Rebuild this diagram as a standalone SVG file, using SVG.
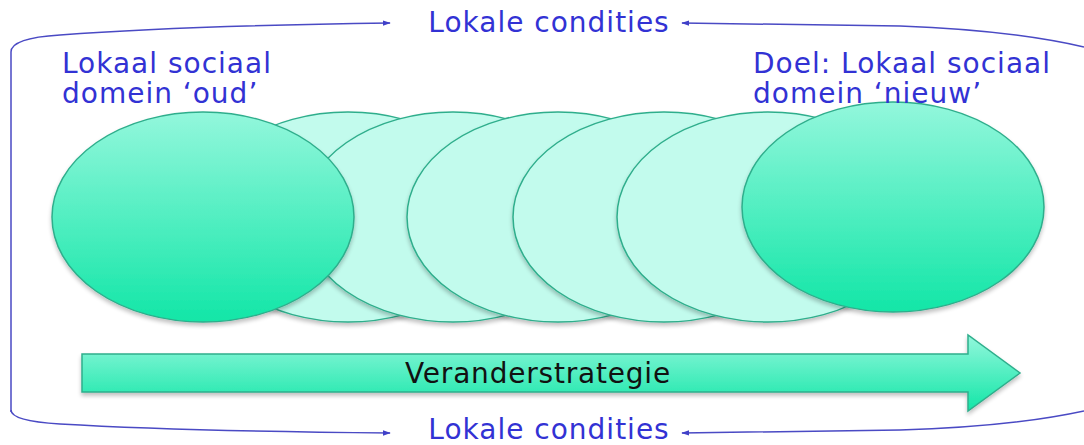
<svg xmlns="http://www.w3.org/2000/svg" width="1084" height="445" viewBox="0 0 1084 445">
  <defs>
    <linearGradient id="gBig" x1="0" y1="0" x2="0" y2="1">
      <stop offset="0" stop-color="#93f7dc"/>
      <stop offset="1" stop-color="#12e6a7"/>
    </linearGradient>
    <filter id="sh" x="-10%" y="-10%" width="120%" height="125%">
      <feGaussianBlur in="SourceAlpha" stdDeviation="2"/>
      <feOffset dx="0" dy="3" result="b"/>
      <feComponentTransfer><feFuncA type="linear" slope="0.25"/></feComponentTransfer>
      <feMerge><feMergeNode/><feMergeNode in="SourceGraphic"/></feMerge>
    </filter>
    <marker id="ah" viewBox="0 0 10 10" refX="9" refY="5" markerWidth="8" markerHeight="8" markerUnits="userSpaceOnUse" orient="auto">
      <path d="M0,1.5 L10,5 L0,8.5 Z" fill="#4040c8"/>
    </marker>
  </defs>
  <style>
    .light { fill: #c2fbed; stroke: #2fae8c; stroke-width: 1.5; }
    .big { fill: url(#gBig); stroke: #2fae8c; stroke-width: 1.5; }
    .conn { fill: none; stroke: #4a4ac4; stroke-width: 1.5; }
    .blue { font-family: "DejaVu Sans", Verdana, sans-serif; font-size: 28px; letter-spacing: 1px; fill: #3232d4; }
    .black { font-family: "DejaVu Sans", Verdana, sans-serif; font-size: 28px; letter-spacing: 0.8px; fill: #111111; }
  </style>

  <g id="connectors">
    <path class="conn" d="M11,412 V52 Q11,38 60,35 Q180,26 390,23" marker-end="url(#ah)"/>
    <path class="conn" d="M11,410 Q11,421 60,424 Q180,431 390,433" marker-end="url(#ah)"/>
    <path class="conn" d="M1084,47 Q1010,30 900,26 L682,23" marker-end="url(#ah)"/>
    <path class="conn" d="M1084,411 Q1010,427 900,430 L682,433" marker-end="url(#ah)"/>
  </g>

  <g id="stage-a" filter="url(#sh)"><ellipse class="light" cx="348" cy="217" rx="151" ry="105"/></g>
  <g id="stage-b" filter="url(#sh)"><ellipse class="light" cx="453" cy="217" rx="151" ry="105"/></g>
  <g id="stage-c" filter="url(#sh)"><ellipse class="light" cx="558" cy="217" rx="151" ry="105"/></g>
  <g id="stage-d" filter="url(#sh)"><ellipse class="light" cx="664" cy="217" rx="151" ry="105"/></g>
  <g id="stage-e" filter="url(#sh)"><ellipse class="light" cx="768" cy="217" rx="151" ry="105"/></g>

  <g id="oud" filter="url(#sh)"><ellipse class="big" cx="203" cy="217" rx="151" ry="105"/></g>
  <g id="nieuw" filter="url(#sh)"><ellipse class="big" cx="893" cy="207" rx="151" ry="105"/></g>

  <g id="veranderstrategie">
    <path class="big" filter="url(#sh)" d="M82,354 H968 V335 L1020,373 L968,411 V392 H82 Z"/>
    <text class="black" x="538" y="383" text-anchor="middle">Veranderstrategie</text>
  </g>

  <g id="label-top"><text class="blue" x="549" y="32" text-anchor="middle">Lokale condities</text></g>
  <g id="label-bottom"><text class="blue" x="549" y="439" text-anchor="middle">Lokale condities</text></g>
  <g id="label-oud">
    <text class="blue" x="62" y="73">Lokaal sociaal</text>
    <text class="blue" x="62" y="103">domein ‘oud’</text>
  </g>
  <g id="label-nieuw">
    <text class="blue" x="753" y="73">Doel: Lokaal sociaal</text>
    <text class="blue" x="753" y="103">domein ‘nieuw’</text>
  </g>
</svg>
